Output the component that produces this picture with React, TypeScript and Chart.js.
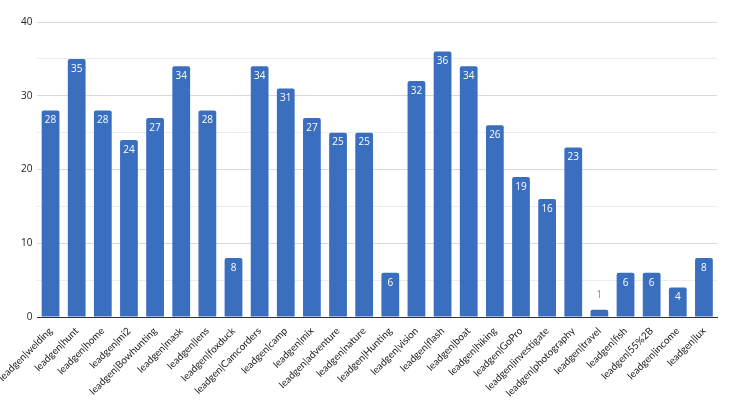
import React, { useEffect, useRef } from "react";
import { Chart, registerables } from "chart.js";

Chart.register(...registerables);

const categories = [
  "leadgen|welding", "leadgen|hunt", "leadgen|home", "leadgen|mi2", "leadgen|Bowhunting",
  "leadgen|mask", "leadgen|lens", "leadgen|foxduck", "leadgen|Camcorders", "leadgen|camp",
  "leadgen|mix", "leadgen|adventure", "leadgen|nature", "leadgen|Hunting", "leadgen|vision",
  "leadgen|flash", "leadgen|boat", "leadgen|hiking", "leadgen|GoPro", "leadgen|investigate",
  "leadgen|photography", "leadgen|travel", "leadgen|fish", "leadgen|55%2B", "leadgen|income",
  "leadgen|lux",
];
const values = [28, 35, 28, 24, 27, 34, 28, 8, 34, 31, 27, 25, 25, 6, 32, 36, 34, 26, 19, 16, 23, 1, 6, 6, 4, 8];
const yTicks = [0, 10, 20, 30, 40];

const barLabels = {
  id: "barLabels",
  afterDatasetsDraw(chart: any) {
    const ctx = chart.ctx;
    const meta = chart.getDatasetMeta(0);
    ctx.save();
    ctx.font = "10px 'Open Sans', sans-serif";
    ctx.textAlign = "center";
    ctx.textBaseline = "middle";
    meta.data.forEach((bar: any, i: number) => {
      const v = values[i];
      const h = bar.base - bar.y;
      if (h > 20) {
        ctx.fillStyle = "#ffffff";
        ctx.fillText(String(v), bar.x, bar.y + 10);
      } else {
        ctx.fillStyle = "#6d8fb8";
        ctx.fillText(String(v), bar.x, bar.y - 14);
      }
    });
    ctx.restore();
  },
};

export default function App() {
  const ref = useRef<HTMLCanvasElement>(null);
  useEffect(() => {
    document.body.style.margin = "0";
    const chart = new Chart(ref.current!, {
      type: "bar",
      data: {
        labels: categories,
        datasets: [
          {
            data: values,
            backgroundColor: "#3a6fbf",
            borderRadius: { topLeft: 2, topRight: 2 },
            borderSkipped: "bottom",
            barPercentage: 0.68,
            categoryPercentage: 1,
          },
        ],
      },
      options: {
        animation: false,
        responsive: false,
        maintainAspectRatio: false,
        layout: { padding: { left: 0, right: 35, top: 22, bottom: 7 } },
        plugins: { legend: { display: false }, tooltip: { enabled: false } },
        scales: {
          x: {
            grid: { display: false },
            border: { color: "#333333", width: 1 },
            ticks: {
              autoSkip: false,
              maxRotation: 45,
              minRotation: 45,
              color: "#222222",
              padding: 0,
              font: { family: "Lato, sans-serif", size: 10 },
            },
          },
          y: {
            min: 0,
            max: 40,
            border: { display: false },
            grid: {
              color: (c: any) => (c.tick.value === 0 ? "#333333" : c.tick.value % 10 === 0 ? "#d9d9d9" : "#ececec"),
              drawTicks: false,
            },
            ticks: {
              stepSize: 5,
              padding: 5,
              color: "#222222",
              font: { family: "'Open Sans', sans-serif", size: 10 },
              callback: (v: any) => (yTicks.includes(Number(v)) ? String(v) : ""),
            },
          },
        },
      },
      plugins: [barLabels],
    });
    return () => chart.destroy();
  }, []);
  return (
    <div style={{ position: "absolute", left: 0, top: 0, width: 752, height: 406 }}>
      <canvas ref={ref} width={752} height={406} />
    </div>
  );
}
